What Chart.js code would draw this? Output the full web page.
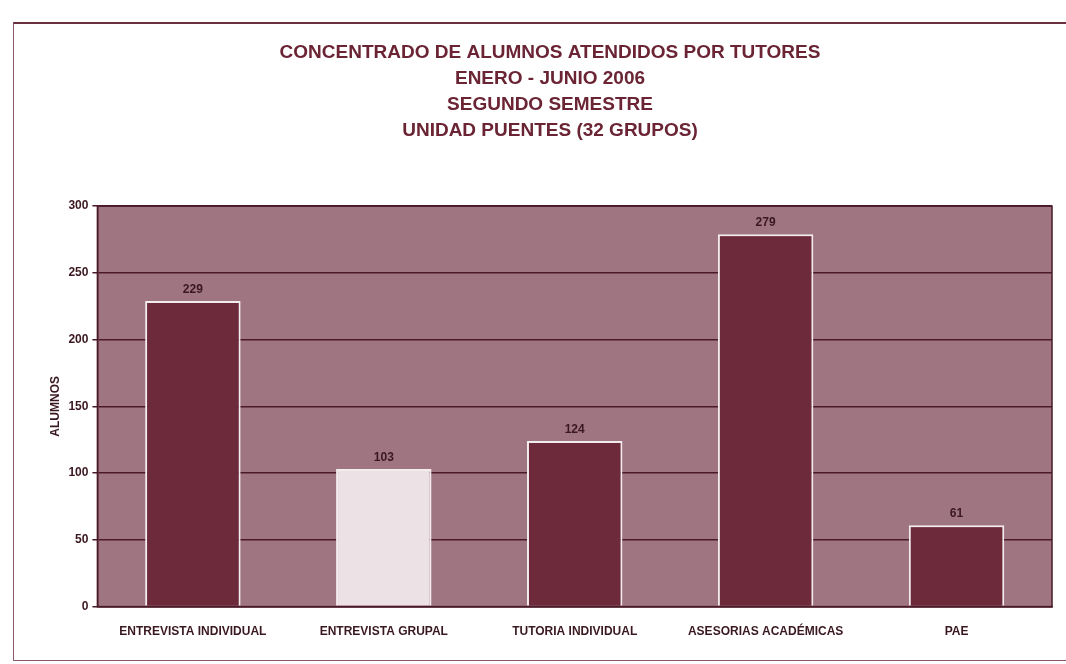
<!DOCTYPE html>
<html>
<head>
<meta charset="utf-8">
<script src="https://cdn.jsdelivr.net/npm/chart.js@4/dist/chart.umd.min.js"></script>
<style>
  body { margin: 0; background: #fff; }
  #frame {
    position: absolute; left: 13px; top: 22px; width: 1060px; height: 636px;
    border-top: 2px solid #6a3040; border-left: 1px solid #8a5a66; border-bottom: 1px solid #8a5a66;
  }
  #wrap { position: absolute; left: 14px; top: 23px; width: 1052px; height: 640px; }
</style>
</head>
<body>
<div id="frame"></div>
<div id="wrap"><canvas id="tutorChart"></canvas></div>
<script>
// Chart data
const categories = ['ENTREVISTA INDIVIDUAL', 'ENTREVISTA GRUPAL', 'TUTORIA INDIVIDUAL', 'ASESORIAS ACADÉMICAS', 'PAE'];
const alumnos = [229, 103, 124, 279, 61];
const titleLines = [
    'CONCENTRADO DE ALUMNOS ATENDIDOS POR TUTORES',
    'ENERO - JUNIO 2006',
    'SEGUNDO SEMESTRE',
    'UNIDAD PUENTES (32 GRUPOS)'
];
const yTicks = [0, 50, 100, 150, 200, 250, 300];

const maroon = '#6c2a3b';
const textColor = '#6a2434';
const fontFamily = '"Liberation Sans", Arial, sans-serif';

// Plot area background + border
const plotBackground = {
    id: 'plotBackground',
    beforeDraw(chart) {
        const { ctx, chartArea } = chart;
        ctx.save();
        ctx.fillStyle = '#a07582';
        ctx.fillRect(chartArea.left, chartArea.top, chartArea.width, chartArea.height);
        ctx.restore();
    },
    afterDraw(chart) {
        const { ctx, chartArea } = chart;
        ctx.save();
        ctx.strokeStyle = '#4a1a28';
        ctx.lineWidth = 1.5;
        ctx.strokeRect(chartArea.left, chartArea.top, chartArea.width, chartArea.height);
        ctx.restore();
    }
};

// Value labels above the bars
const valueLabels = {
    id: 'valueLabels',
    afterDatasetsDraw(chart) {
        const { ctx } = chart;
        const meta = chart.getDatasetMeta(0);
        ctx.save();
        ctx.font = 'bold 12px ' + fontFamily;
        ctx.textAlign = 'center';
        ctx.textBaseline = 'bottom';
        ctx.fillStyle = '#3a1820';
        meta.data.forEach((bar, i) => {
            ctx.fillText(alumnos[i], bar.x, bar.y - 5);
        });
        ctx.restore();
    }
};

const ctx = document.getElementById('tutorChart');
new Chart(ctx, {
    type: 'bar',
    data: {
        labels: categories,
        datasets: [{
            label: 'ALUMNOS',
            data: alumnos,
            backgroundColor: [maroon, '#ece2e5', maroon, maroon, maroon],
            borderColor: '#f3ecee',
            borderWidth: 2,
            borderSkipped: 'bottom',
            categoryPercentage: 1.0,
            barPercentage: 0.5
        }]
    },
    options: {
        responsive: true,
        maintainAspectRatio: false,
        animation: false,
        layout: {
            padding: { left: 34, right: 14, top: 0, bottom: 14 }
        },
        plugins: {
            legend: { display: false },
            tooltip: { enabled: false },
            title: {
                display: true,
                text: titleLines,
                color: textColor,
                font: { family: fontFamily, size: 19, weight: 'bold', lineHeight: 1.37 },
                padding: { top: 17, bottom: 62 }
            }
        },
        scales: {
            x: {
                grid: { display: false },
                border: { display: true, color: '#4a1a28', width: 1.5 },
                ticks: {
                    color: '#3a1820',
                    padding: 10,
                    maxRotation: 0,
                    autoSkip: false,
                    font: { family: fontFamily, size: 12, weight: 'bold' }
                }
            },
            y: {
                min: 0,
                max: 300,
                afterBuildTicks: axis => { axis.ticks = yTicks.map(v => ({ value: v })); },
                grid: {
                    color: '#4a1a28',
                    lineWidth: 1.5,
                    drawTicks: true,
                    tickLength: 5
                },
                border: { display: true, color: '#4a1a28', width: 1.5 },
                ticks: {
                    color: '#3a1820',
                    padding: 4,
                    font: { family: fontFamily, size: 12, weight: 'bold' }
                },
                title: {
                    display: true,
                    text: 'ALUMNOS',
                    color: '#3a1820',
                    padding: { top: 0, bottom: 2 },
                    font: { family: fontFamily, size: 12, weight: 'bold' }
                }
            }
        }
    },
    plugins: [plotBackground, valueLabels]
});
</script>
</body>
</html>
